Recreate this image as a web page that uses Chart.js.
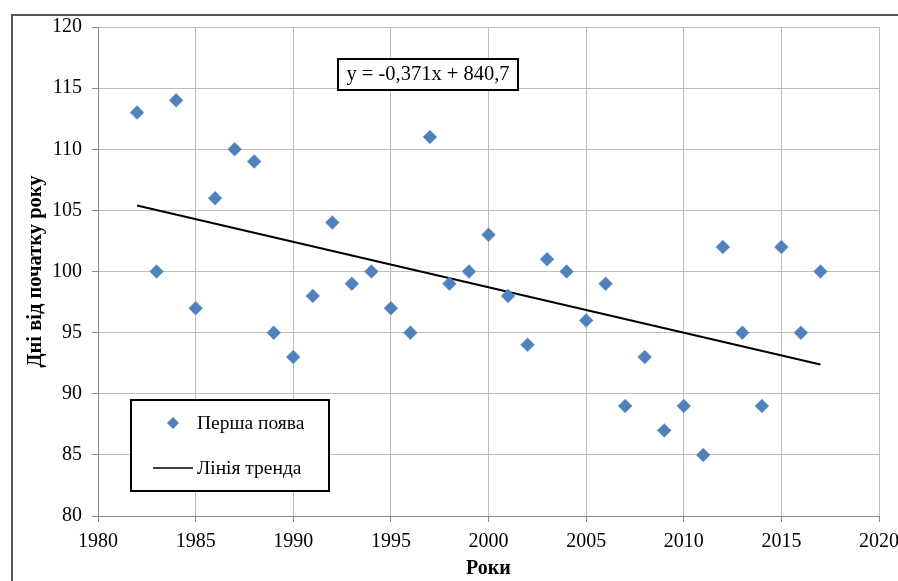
<!DOCTYPE html>
<html>
<head>
<meta charset="utf-8">
<script src="https://cdn.jsdelivr.net/npm/chart.js@4/dist/chart.umd.min.js"></script>
<style>
  html, body { margin: 0; padding: 0; background: #fff; }
  #wrap { width: 898px; height: 581px; }
</style>
</head>
<body>
<div id="wrap"><canvas id="chart"></canvas></div>
<script>
// ─── Дані ───────────────────────────────
const years = [1982, 1983, 1984, 1985, 1986, 1987, 1988, 1989, 1990, 1991, 1992, 1993,
  1994, 1995, 1996, 1997, 1998, 1999, 2000, 2001, 2002, 2003, 2004, 2005,
  2006, 2007, 2008, 2009, 2010, 2011, 2012, 2013, 2014, 2015, 2016, 2017];
const days = [113, 100, 114, 97, 106, 110, 109, 95, 93, 98, 104, 99,
  100, 97, 95, 111, 99, 100, 103, 98, 94, 101, 100, 96,
  99, 89, 93, 87, 89, 85, 102, 95, 89, 102, 95, 100];
const trendYears = [1982, 2017];
const trendDays = [105.4, 92.4];
const xTicks = [1980, 1985, 1990, 1995, 2000, 2005, 2010, 2015, 2020];
const yTicks = [80, 85, 90, 95, 100, 105, 110, 115, 120];
const equation = 'y = -0,371x + 840,7';
const seriesLabel = 'Перша поява';
const trendLabel = 'Лінія тренда';

const serif = '"Liberation Serif", "Times New Roman", serif';
const blue = '#4F81BD';

// ─── Рамка, рівняння, легенда ───────────
const decorPlugin = {
  id: 'decor',
  beforeDraw(chart) {
    const ctx = chart.ctx;
    ctx.save();
    ctx.strokeStyle = '#555';
    ctx.lineWidth = 2;
    ctx.beginPath();
    ctx.moveTo(12, 581);
    ctx.lineTo(12, 15);
    ctx.lineTo(898, 15);
    ctx.stroke();
    ctx.restore();
  },
  afterDraw(chart) {
    const ctx = chart.ctx;
    const a = chart.chartArea;
    ctx.save();
    // рівняння
    const ex = a.left + 240, ey = a.top + 32;
    ctx.fillStyle = '#fff';
    ctx.fillRect(ex, ey, 180, 31);
    ctx.strokeStyle = '#000';
    ctx.lineWidth = 2;
    ctx.strokeRect(ex, ey, 180, 31);
    ctx.fillStyle = '#000';
    ctx.font = '20.5px ' + serif;
    ctx.textAlign = 'center';
    ctx.textBaseline = 'middle';
    ctx.fillText(equation, ex + 90, ey + 16);

    // легенда
    const lx = a.left + 33, ly = a.top + 373;
    ctx.fillStyle = '#fff';
    ctx.fillRect(lx, ly, 198, 91);
    ctx.strokeRect(lx, ly, 198, 91);
    ctx.fillStyle = blue;
    ctx.beginPath();
    const cx = lx + 42, cy = ly + 23;
    ctx.moveTo(cx, cy - 6); ctx.lineTo(cx + 6, cy); ctx.lineTo(cx, cy + 6); ctx.lineTo(cx - 6, cy);
    ctx.closePath(); ctx.fill();
    ctx.strokeStyle = '#000';
    ctx.lineWidth = 1.5;
    ctx.beginPath();
    ctx.moveTo(lx + 22, ly + 68); ctx.lineTo(lx + 62, ly + 68);
    ctx.stroke();
    ctx.fillStyle = '#000';
    ctx.font = '19.5px ' + serif;
    ctx.textAlign = 'left';
    ctx.fillText(seriesLabel, lx + 66, ly + 24);
    ctx.fillText(trendLabel, lx + 66, ly + 69);
    ctx.restore();
  }
};

const ctx = document.getElementById('chart').getContext('2d');
new Chart(ctx, {
  type: 'scatter',
  data: {
    datasets: [{
      label: seriesLabel,
      data: years.map((y, i) => ({ x: y, y: days[i] })),
      backgroundColor: blue,
      borderColor: '#7FA3D0',
      borderWidth: 0.5,
      pointStyle: 'rectRot',
      pointRadius: 7,
      pointHoverRadius: 7,
      order: 1
    }, {
      label: trendLabel,
      type: 'line',
      data: trendYears.map((y, i) => ({ x: y, y: trendDays[i] })),
      borderColor: '#000',
      borderWidth: 2,
      pointRadius: 0,
      fill: false,
      order: 2
    }]
  },
  options: {
    responsive: true,
    maintainAspectRatio: false,
    animation: false,
    layout: { padding: { left: 0, top: 27, right: 19, bottom: 0 } },
    plugins: {
      legend: { display: false },
      tooltip: { enabled: false }
    },
    scales: {
      x: {
        type: 'linear',
        min: 1980, max: 2020,
        afterBuildTicks: s => { s.ticks = xTicks.map(v => ({ value: v })); },
        afterFit: s => { s.height = 65; s.paddingLeft = 0; s.paddingRight = 0; },
        grid: { color: '#BDBDBD', lineWidth: 1, tickLength: 6, tickColor: '#888' },
        border: { color: '#888', width: 1 },
        ticks: {
          color: '#000', padding: 8, maxRotation: 0, font: { family: serif, size: 20 },
          callback: v => String(v)
        },
        title: {
          display: true, text: 'Роки', color: '#000',
          font: { family: serif, size: 20, weight: 'bold' },
          padding: { top: 0, bottom: 0 }
        }
      },
      y: {
        min: 80, max: 120,
        afterBuildTicks: s => { s.ticks = yTicks.map(v => ({ value: v })); },
        afterFit: s => { s.width = 98; },
        grid: { color: '#BDBDBD', lineWidth: 1, tickLength: 6, tickColor: '#888' },
        border: { color: '#888', width: 1 },
        ticks: { color: '#000', padding: 10, font: { family: serif, size: 20 }, callback: v => String(v) },
        title: {
          display: true, text: 'Дні від початку року', color: '#000',
          font: { family: serif, size: 20.5, weight: 'bold' },
          padding: { top: 23, bottom: 0 }
        }
      }
    }
  },
  plugins: [decorPlugin]
});
</script>
</body>
</html>
